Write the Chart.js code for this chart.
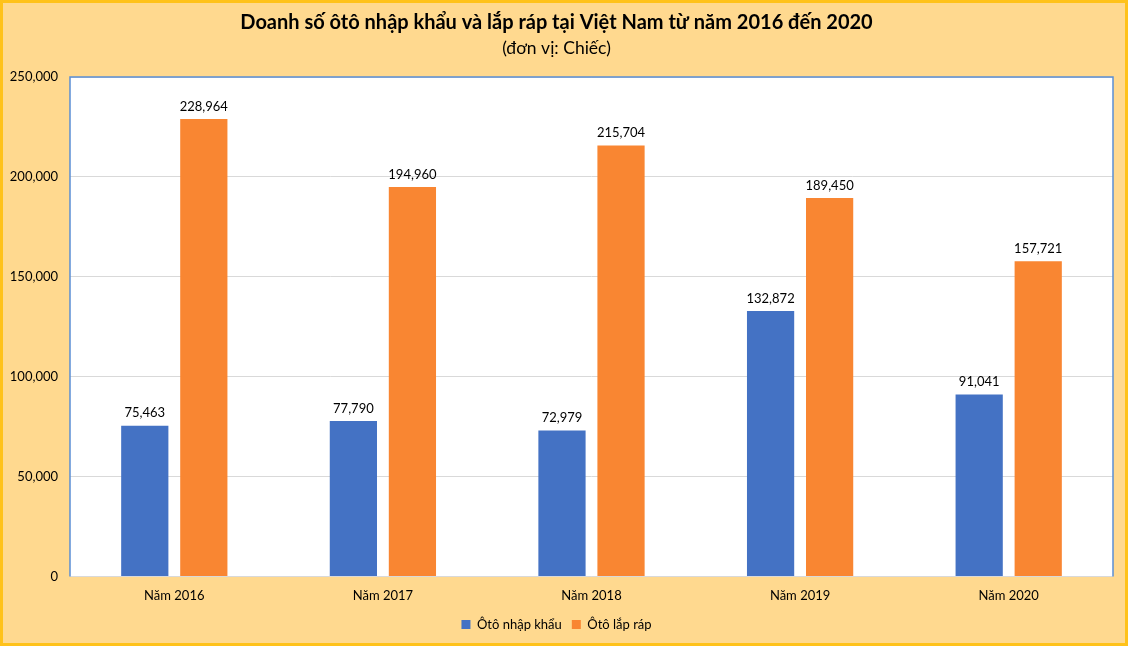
<!DOCTYPE html>
<html><head><meta charset="utf-8">
<script src="https://cdn.jsdelivr.net/npm/chart.js@4/dist/chart.umd.min.js"></script>
<style>html,body{margin:0;padding:0;background:#FFD98F;}#wrap{width:1128px;height:646px;position:relative;}</style>
</head><body><div id="wrap"><canvas id="c" width="1128" height="646"></canvas></div>
<script>
const categories = ["Năm 2016", "Năm 2017", "Năm 2018", "Năm 2019", "Năm 2020"];
const importedCars = [75463, 77790, 72979, 132872, 91041];
const assembledCars = [228964, 194960, 215704, 189450, 157721];
const seriesNames = ["Ôtô nhập khẩu", "Ôtô lắp ráp"];
const titleText = "Doanh số ôtô nhập khẩu và lắp ráp tại Việt Nam từ năm 2016 đến 2020";
const subtitleText = "(đơn vị: Chiếc)";

const FONT = "Lato, 'Open Sans', sans-serif";
const fmt = v => v.toLocaleString('en-US');

const bgPlugin = {
  id: 'bg',
  beforeDraw(chart) {
    const ctx = chart.ctx, a = chart.chartArea;
    ctx.save();
    ctx.fillStyle = '#FFD98F';
    ctx.fillRect(0, 0, chart.width, chart.height);
    ctx.strokeStyle = '#FFC21A';
    ctx.lineWidth = 3;
    ctx.strokeRect(1.5, 1.5, chart.width - 3, chart.height - 3);
    ctx.fillStyle = '#FFFFFF';
    ctx.fillRect(a.left, a.top, a.right - a.left, a.bottom - a.top);
    ctx.restore();
  },
  afterDatasetsDraw(chart) {
    const ctx = chart.ctx, a = chart.chartArea;
    ctx.save();
    ctx.strokeStyle = '#5B8FD5';
    ctx.lineWidth = 1.5;
    ctx.beginPath();
    ctx.moveTo(a.left, a.bottom);
    ctx.lineTo(a.left, a.top);
    ctx.lineTo(a.right, a.top);
    ctx.lineTo(a.right, a.bottom);
    ctx.stroke();
    ctx.fillStyle = '#000';
    ctx.font = "13px " + FONT;
    ctx.textAlign = 'center';
    ctx.textBaseline = 'bottom';
    chart.data.datasets.forEach((ds, i) => {
      chart.getDatasetMeta(i).data.forEach((bar, j) => {
        ctx.fillText(fmt(ds.data[j]), bar.x, bar.y - 6);
      });
    });
    ctx.restore();
  }
};

new Chart(document.getElementById('c'), {
  type: 'bar',
  data: {
    labels: categories,
    datasets: [
      { label: seriesNames[0], data: importedCars, backgroundColor: '#4472C4' },
      { label: seriesNames[1], data: assembledCars, backgroundColor: '#F98632' }
    ]
  },
  options: {
    responsive: false,
    animation: false,
    devicePixelRatio: 1,
    categoryPercentage: 0.566,
    barPercentage: 0.8,
    layout: { padding: { left: 0, right: 15, top: 11, bottom: 5 } },
    plugins: {
      title: { display: true, text: titleText, color: '#000', font: { family: FONT, size: 20, weight: 'bold' }, padding: { top: 0, bottom: 3 } },
      subtitle: { display: true, text: subtitleText, color: '#000', font: { family: FONT, size: 17.5 }, padding: { bottom: 18 } },
      legend: {
        position: 'bottom',
        labels: { color: '#000', font: { family: FONT, size: 13 }, boxWidth: 9, boxHeight: 9, padding: 10 }
      },
      tooltip: { enabled: false }
    },
    scales: {
      x: {
        grid: { display: false, drawBorder: false },
        border: { display: false },
        ticks: { color: '#000', font: { family: FONT, size: 13 }, padding: 4 }
      },
      y: {
        min: 0, max: 250000,
        afterFit(s) { s.width = 70; },
        grid: { color: '#D9D9D9', drawTicks: false },
        border: { display: false },
        ticks: { stepSize: 50000, color: '#000', font: { family: FONT, size: 13 }, padding: 12, callback: v => fmt(v) }
      }
    }
  },
  plugins: [bgPlugin]
});
</script></body></html>
